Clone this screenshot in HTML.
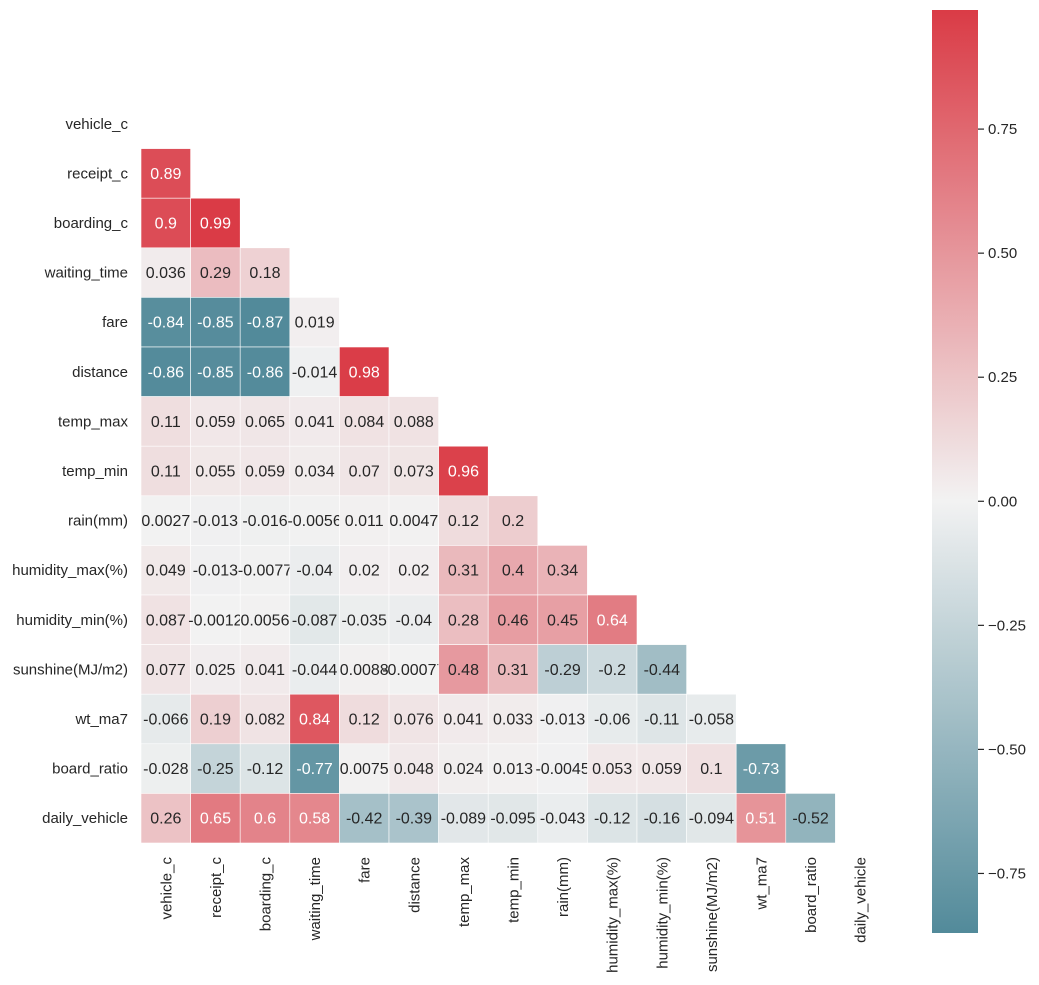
<!DOCTYPE html>
<html><head><meta charset="utf-8"><style>
body{margin:0;background:#fff;}
svg{display:block;font-family:"Liberation Sans",Arial,sans-serif;}
</style></head><body>
<svg id="chart" width="1039" height="985" xmlns="http://www.w3.org/2000/svg">
<defs><linearGradient id="cbgrad" x1="0" y1="1" x2="0" y2="0"></linearGradient></defs>
</svg>
<script>
const labels=["vehicle_c","receipt_c","boarding_c","waiting_time","fare","distance","temp_max","temp_min","rain(mm)","humidity_max(%)","humidity_min(%)","sunshine(MJ/m2)","wt_ma7","board_ratio","daily_vehicle"];
const row1=[0.89];
const row2=[0.9,0.99];
const row3=[0.036,0.29,0.18];
const row4=[-0.84,-0.85,-0.87,0.019];
const row5=[-0.86,-0.85,-0.86,-0.014,0.98];
const row6=[0.11,0.059,0.065,0.041,0.084,0.088];
const row7=[0.11,0.055,0.059,0.034,0.07,0.073,0.96];
const row8=[0.0027,-0.013,-0.016,-0.0056,0.011,0.0047,0.12,0.2];
const row9=[0.049,-0.013,-0.0077,-0.04,0.02,0.02,0.31,0.4,0.34];
const row10=[0.087,-0.0012,0.0056,-0.087,-0.035,-0.04,0.28,0.46,0.45,0.64];
const row11=[0.077,0.025,0.041,-0.044,0.0088,-0.00077,0.48,0.31,-0.29,-0.2,-0.44];
const row12=[-0.066,0.19,0.082,0.84,0.12,0.076,0.041,0.033,-0.013,-0.06,-0.11,-0.058];
const row13=[-0.028,-0.25,-0.12,-0.77,0.0075,0.048,0.024,0.013,-0.0045,0.053,0.059,0.1,-0.73];
const row14=[0.26,0.65,0.6,0.58,-0.42,-0.39,-0.089,-0.095,-0.043,-0.12,-0.16,-0.094,0.51,-0.52];
const cbTicks=[0.75,0.5,0.25,0,-0.25,-0.5,-0.75];
const rows=[[],row1,row2,row3,row4,row5,row6,row7,row8,row9,row10,row11,row12,row13,row14];

const NS="http://www.w3.org/2000/svg";
const svg=document.getElementById('chart');
function mk(t,a,p){const e=document.createElementNS(NS,t);for(const k in a)e.setAttribute(k,a[k]);(p||svg).appendChild(e);return e;}
const X0=141,Y0=99,CS=49.6;
const xPos=i=>X0+i*CS, yPos=i=>Y0+i*CS;
let all=[];rows.forEach(r=>all=all.concat(r));
const vmin=Math.min(...all),vmax=Math.max(...all);
const LO=[82,138,154],MID=[242,242,242],HI=[218,59,70];
function color(v){let a,s;if(v<0){a=LO;s=v/vmin;}else{a=HI;s=v/vmax;}s=Math.max(0,Math.min(1,s));
 return [0,1,2].map(k=>Math.round(MID[k]+(a[k]-MID[k])*s));}
function lum(c){const f=x=>{x/=255;return x<=0.03928?x/12.92:Math.pow((x+0.055)/1.055,2.4)};return 0.2126*f(c[0])+0.7152*f(c[1])+0.0722*f(c[2]);}
function fmt(v){return String(Number(v.toPrecision(2)));}
rows.forEach((r,i)=>{r.forEach((v,j)=>{
 const c=color(v);
 const rect=mk('rect',{x:xPos(j),y:yPos(i),width:CS,height:CS,fill:`rgb(${c})`,stroke:'#fff','stroke-width':0.6});
 
 
 const t=mk('text',{x:xPos(j)+CS/2,y:yPos(i)+CS/2+5.5,'text-anchor':'middle','font-size':16,fill:lum(c)>0.408?'#262626':'#fff'});
 t.textContent=fmt(v);
 
 
});});
labels.forEach((l,i)=>{
 const t=mk('text',{x:128,y:yPos(i)+CS/2+5,'text-anchor':'end','font-size':15,fill:'#262626'});
 t.textContent=l;
 
 
 const cx=xPos(i)+CS/2+5.5;
 const u=mk('text',{x:cx,y:857,'text-anchor':'end','font-size':15,fill:'#262626',transform:`rotate(-90 ${cx} 857)`});
 u.textContent=l;
 
 
});
const CBX=932,CBW=46,CBT=10,CBB=933;
const cbY=v=>CBB-(v-vmin)/(vmax-vmin)*(CBB-CBT);
const g=document.getElementById('cbgrad');
for(let k=0;k<=40;k++){const v=vmin+(vmax-vmin)*k/40;const c=color(v);mk('stop',{offset:k/40,'stop-color':`rgb(${c})`},g);}
const zoff=(0-vmin)/(vmax-vmin);
mk('stop',{offset:zoff,'stop-color':`rgb(${MID})`},g);
[...g.children].sort((a,b)=>a.getAttribute('offset')-b.getAttribute('offset')).forEach(s=>g.appendChild(s));
const cb=mk('rect',{x:CBX,y:CBT,width:CBW,height:CBB-CBT,fill:'url(#cbgrad)'});


cbTicks.forEach(v=>{const y=cbY(v);
 mk('line',{x1:CBX+CBW,x2:CBX+CBW+6,y1:y,y2:y,stroke:'#262626','stroke-width':1.2});
 const t=mk('text',{x:988,y:y+5,'font-size':15,fill:'#262626'});
 t.textContent=(v<0?'\u2212':'')+Math.abs(v).toFixed(2);
 
 
});
</script>
</body></html>
